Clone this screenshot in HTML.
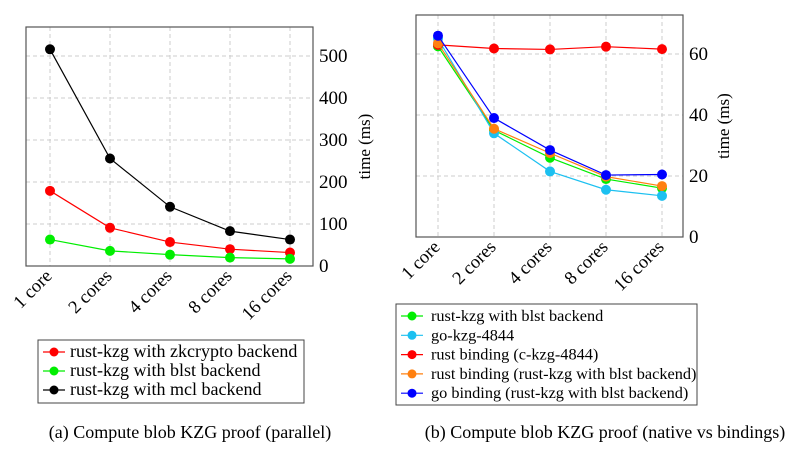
<!DOCTYPE html>
<html><head><meta charset="utf-8"><style>
body{margin:0;background:#fff;width:787px;height:450px;overflow:hidden}
svg text{font-family:"Liberation Serif","Times New Roman",serif;fill:#000}
</style></head><body>
<svg width="787" height="450" id="fig" font-family="Liberation Serif, serif">
<g id="left"></g>
<g id="right"></g>
</svg>
<script>
const cats=["1 core","2 cores","4 cores","8 cores","16 cores"];
const aTicks=[0,100,200,300,400,500];
const aMcl=[516,256,141,83,63];
const aZk=[179,91,57,40,32];
const aBlst=[63,36,27,20,17];
const bTicks=[0,20,40,60];
const bBlst=[62.5,35,26,19,16];
const bGo=[65,34,21.5,15.5,13.5];
const bRustC=[63,61.8,61.5,62.4,61.6];
const bRustBind=[63.5,35.5,27.5,19.8,16.7];
const bGoBind=[66,39,28.5,20.3,20.5];
const NS="http://www.w3.org/2000/svg";
function mk(p,t,a){const e=document.createElementNS(NS,t);for(const k in a)e.setAttribute(k,a[k]);if(t==='text')e.setAttribute('font-family','Liberation Serif, serif');p.appendChild(e);return e;}
function chart(g,cfg){
  const {x0,x1,y0,y1,xs,ymax,ticks,series,yl}=cfg;
  const X=i=>xs[0]+i*(xs[1]-xs[0]);
  const Y=v=>y1-(v/ymax)*(y1-cfg.yTop);
  cats.forEach((c,i)=>{const l=mk(g,'line',{x1:X(i),x2:X(i),y1:y0,y2:y1,stroke:'#ccc','stroke-dasharray':'4,3'});
    
    const t=mk(g,'text',{x:X(i)+3,y:y1+11,'font-size':18.5,'text-anchor':'end',transform:`rotate(-45 ${X(i)+3} ${y1+11})`});t.textContent=c;
    });
  ticks.forEach(v=>{if(v>0){const l=mk(g,'line',{x1:x0,x2:x1,y1:Y(v),y2:Y(v),stroke:'#ccc','stroke-dasharray':'4,3'});
    }
    const t=mk(g,'text',{x:x1+6,y:Y(v)+6,'font-size':19});t.textContent=v;
    });
  const r=mk(g,'rect',{x:x0,y:y0,width:x1-x0,height:y1-y0,fill:'none',stroke:'#555','stroke-width':1.2});
  
  const yt=mk(g,'text',{x:yl,y:(y0+y1)/2,'font-size':17,'text-anchor':'middle',transform:`rotate(-90 ${yl} ${(y0+y1)/2})`});yt.textContent='time (ms)';
  
  series.forEach(s=>{const pl=mk(g,'polyline',{points:s.d.map((v,i)=>X(i)+','+Y(v)).join(' '),fill:'none',stroke:s.c,'stroke-width':1.2});
    
    s.d.forEach((v,i)=>{const c=mk(g,'circle',{cx:X(i),cy:Y(v),r:5,fill:s.c});
      });});
}
chart(document.getElementById('left'),{x0:26,x1:313,y0:27,y1:266,yTop:56,xs:[50,110],ymax:500,ticks:aTicks,yl:370,
 series:[{d:aZk,c:'#f00'},{d:aBlst,c:'#0e0'},{d:aMcl,c:'#000'}]});
chart(document.getElementById('right'),{x0:416,x1:683,y0:15,y1:237,yTop:54,xs:[438,494],ymax:60,ticks:bTicks,yl:729,
 series:[{d:bBlst,c:'#0e0'},{d:bGo,c:'#1cc0f0'},{d:bRustC,c:'#f00'},{d:bRustBind,c:'#ff8010'},{d:bGoBind,c:'#00f'}]});
function legend(g,x,y,w,h,items,row,fs,tx){
  const r=mk(g,'rect',{x,y,width:w,height:h,fill:'#fff',stroke:'#444'});
  
  items.forEach((it,i)=>{const yy=y+12+i*row;
    const l=mk(g,'line',{x1:x+5,x2:x+27,y1:yy,y2:yy,stroke:it[1],'stroke-width':1.2});
    
    const c=mk(g,'circle',{cx:x+16,cy:yy,r:4.5,fill:it[1]});
    
    const t=mk(g,'text',{x:x+tx,y:yy+5,'font-size':fs});t.textContent=it[0];
    });
}
const L=document.getElementById('left'),R=document.getElementById('right');
legend(L,38,340,266,63,[["rust-kzg with zkcrypto backend","#f00"],["rust-kzg with blst backend","#0e0"],["rust-kzg with mcl backend","#000"]],19,18,32);
legend(R,396,304,301,101,[["rust-kzg with blst backend","#0e0"],["go-kzg-4844","#1cc0f0"],["rust binding (c-kzg-4844)","#f00"],["rust binding (rust-kzg with blst backend)","#ff8010"],["go binding (rust-kzg with blst backend)","#00f"]],19.3,16.3,35);
const c1=mk(L,'text',{x:190,y:438,'font-size':18,'text-anchor':'middle'});c1.textContent='(a) Compute blob KZG proof (parallel)';

const c2=mk(R,'text',{x:605,y:438,'font-size':18,'text-anchor':'middle'});c2.textContent='(b) Compute blob KZG proof (native vs bindings)';

</script>
</body></html>
